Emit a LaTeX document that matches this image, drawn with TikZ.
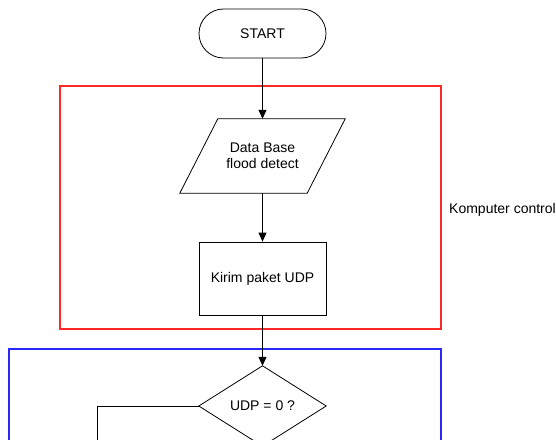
\documentclass[tikz,border=0pt]{standalone}
\usepackage{fontspec}
\setmainfont{Liberation Sans}
\usetikzlibrary{arrows.meta}
\definecolor{frameblue}{RGB}{40,40,255}
\definecolor{framered}{RGB}{255,40,40}
\begin{document}
\begin{tikzpicture}[x=1pt,y=-1pt,
  every node/.style={font=\fontsize{14}{16}\selectfont, align=center, inner sep=0pt},
  line/.style={draw=black, line width=0.8pt},
  arr/.style={line, -{Triangle[width=8pt,length=9pt]}},
  shapebox/.style={minimum width=127pt},
  frame/.style={line width=1.2pt},
]
\clip (0,0) rectangle (556,439);
\fill[white] (0,0) rectangle (556,439);
% group frames
\draw[frame, draw=framered] (60,86) rectangle (441,329);
\draw[frame, draw=frameblue] (9,349) rectangle (441,470);
\node[anchor=base west] (lbl) at (449,213) {Komputer control};
% nodes
\node[shapebox, minimum height=49pt, rounded corners=24.5pt, line] (start) at (262.5,33.5) {START};
\node[shapebox, minimum height=74pt] (db) at (262.5,156) {Data Base\\flood detect};
\draw[line] ([xshift=19pt]db.north west) -- ([xshift=19pt]db.north east) -- ([xshift=-19pt]db.south east) -- ([xshift=-19pt]db.south west) -- cycle;
\node[shapebox, minimum height=73pt, line] (kirim) at (262.5,278.5) {Kirim paket UDP};
\node[shapebox, minimum height=80pt] (dec) at (262.5,406) {UDP = 0 ?};
\draw[line] (dec.north) -- (dec.east) -- (dec.south) -- (dec.west) -- cycle;
\coordinate (loopend) at (97,470);
% connectors
\draw[arr] (start.south) -- (db.north);
\draw[arr] (db.south) -- (kirim.north);
\draw[arr] (kirim.south) -- (dec.north);
\draw[line] (dec.west) -| (loopend);
\end{tikzpicture}
\end{document}
